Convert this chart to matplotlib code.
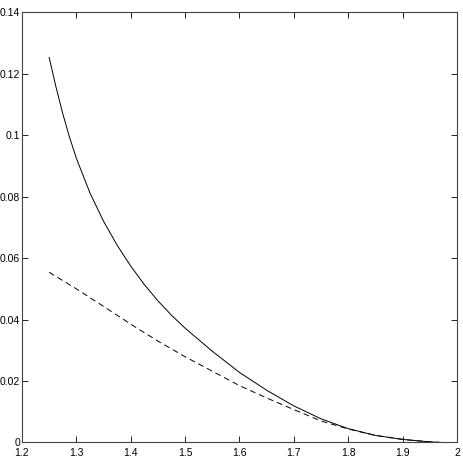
import matplotlib
matplotlib.use("Agg")
from matplotlib import pyplot as plt

plt.rcParams['font.family'] = ['Liberation Sans', 'DejaVu Sans']

# solid curve
solid_x = [1.25, 1.2625, 1.275, 1.2875, 1.30, 1.325, 1.35, 1.375, 1.40, 1.425,
           1.45, 1.475, 1.50, 1.55, 1.60, 1.65, 1.70, 1.75, 1.80, 1.85,
           1.90, 1.95, 1.972]
solid_y = [0.1253, 0.1157, 0.1070, 0.0993, 0.0925, 0.0812, 0.0720, 0.0642, 0.0574, 0.0514,
           0.0461, 0.0414, 0.0372, 0.0297, 0.0228, 0.0170, 0.0119, 0.0077, 0.0045, 0.0023,
           0.0010, 0.0002, 0.0]

# dashed curve
dash_x = [1.25, 1.30, 1.35, 1.40, 1.45, 1.50, 1.55, 1.60, 1.65, 1.70,
          1.75, 1.80, 1.85, 1.90, 1.95, 1.972]
dash_y = [0.0554, 0.0500, 0.0443, 0.0385, 0.0330, 0.0279, 0.0232, 0.0185, 0.0145, 0.0107,
          0.0070, 0.0044, 0.0023, 0.0010, 0.0002, 0.0]

xticks = [1.2, 1.3, 1.4, 1.5, 1.6, 1.7, 1.8, 1.9, 2.0]
xlabels = ['1.2', '1.3', '1.4', '1.5', '1.6', '1.7', '1.8', '1.9', '2']
yticks = [0, 0.02, 0.04, 0.06, 0.08, 0.1, 0.12, 0.14]
ylabels = ['0', '0.02', '0.04', '0.06', '0.08', '0.1', '0.12', '0.14']

fig = plt.figure(figsize=(4.63, 4.63), dpi=100)
ax = fig.add_axes([0.0475, 0.0443, 0.9395, 0.9291])

ax.plot(solid_x, solid_y, color='black', lw=0.7)
ax.plot(dash_x, dash_y, color='black', lw=0.7, linestyle=(0, (6, 4)))

ax.set_xlim(1.2, 2.0)
ax.set_ylim(0, 0.14)
ax.set_xticks(xticks)
ax.set_xticklabels(xlabels)
ax.set_yticks(yticks)
ax.set_yticklabels(ylabels)

ax.tick_params(direction='in', top=True, right=True, length=4, width=0.6,
               labelsize=7.5, colors='black')
ax.tick_params(axis='x', pad=4)
ax.tick_params(axis='y', pad=1.5)
for sp in ax.spines.values():
    sp.set_linewidth(0.8)
    sp.set_color('#444444')

fig.savefig('out.png', dpi=100)
